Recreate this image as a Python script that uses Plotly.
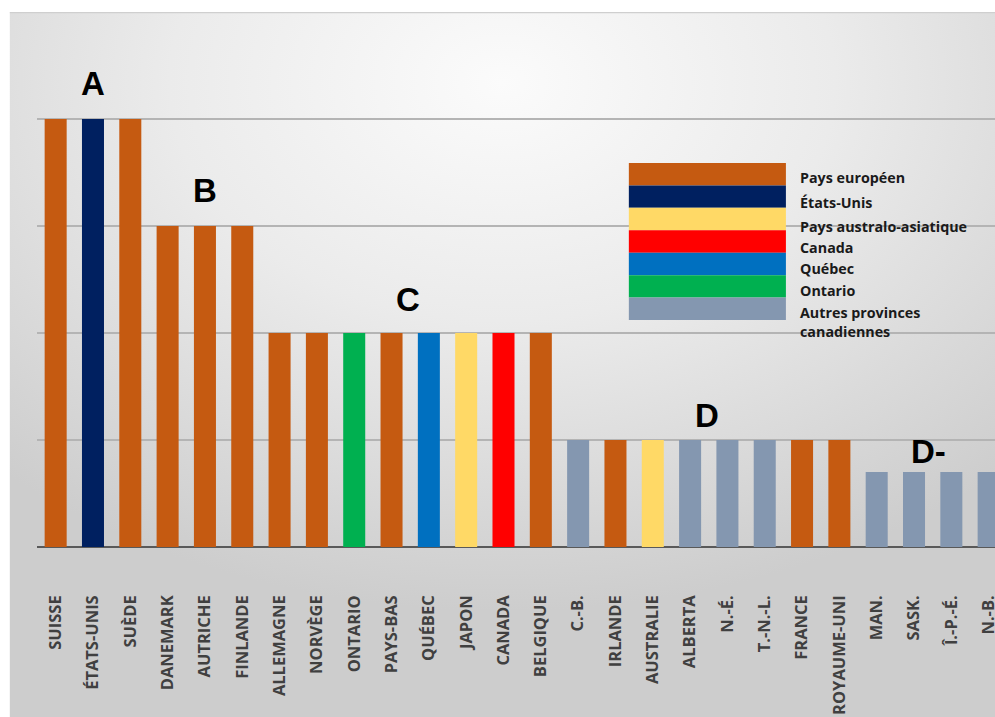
import base64
import plotly.graph_objects as go

# ---- data ----
categories = ["SUISSE", "ÉTATS-UNIS", "SUÈDE", "DANEMARK", "AUTRICHE", "FINLANDE",
              "ALLEMAGNE", "NORVÈGE", "ONTARIO", "PAYS-BAS", "QUÉBEC", "JAPON",
              "CANADA", "BELGIQUE", "C.-B.", "IRLANDE", "AUSTRALIE", "ALBERTA",
              "N.-É.", "T.-N.-L.", "FRANCE", "ROYAUME-UNI", "MAN.", "SASK.",
              "Î.-P.-É.", "N.-B."]
values = [4, 4, 4, 3, 3, 3, 2, 2, 2, 2, 2, 2, 2, 2, 1, 1, 1, 1, 1, 1, 1, 1,
          0.7, 0.7, 0.7, 0.7]
groups = ["eu", "us", "eu", "eu", "eu", "eu", "eu", "eu", "on", "eu", "qc", "asia",
          "ca", "eu", "prov", "eu", "asia", "prov", "prov", "prov", "eu", "eu",
          "prov", "prov", "prov", "prov"]

legend_keys = ["eu", "us", "asia", "ca", "qc", "on", "prov"]
legend_labels = ["Pays européen", "États-Unis", "Pays australo-asiatique", "Canada",
                 "Québec", "Ontario", "Autres provinces<br>canadiennes"]

grade_letters = ["A", "B", "C", "D", "D-"]
grade_x = [1, 4, 9.45, 17.45, 23.4]
grade_y = [4.33, 3.33, 2.31, 1.23, 0.89]

colors = {"eu": "#C55A11", "us": "#002060", "asia": "#FFD966", "ca": "#FF0000",
          "qc": "#0070C0", "on": "#00B050", "prov": "#8497B0"}

# ---- geometry helpers (pixels -> paper) ----
W, H = 995, 717
PL, PR, PT, PB = 37.4, 995.0, 12.0, 547.0
pw, ph = PR - PL, PB - PT


def px_x(x):
    return (x - PL) / pw


def px_y(y):
    return (PB - y) / ph


fig = go.Figure()
fig.add_trace(go.Bar(
    x=list(range(len(categories))), y=values,
    marker=dict(color=[colors[g] for g in groups], line=dict(width=0)),
    width=0.59, hoverinfo="skip", showlegend=False,
))

# gradient panel background (svg image)
svg = f'''<svg xmlns="http://www.w3.org/2000/svg" width="985" height="705" viewBox="0 0 985 705" preserveAspectRatio="none">
<defs><radialGradient id="g" cx="0.5" cy="0.1" r="0.75" gradientUnits="objectBoundingBox">
<stop offset="0" stop-color="#fbfbfb"/><stop offset="0.45" stop-color="#ebebeb"/><stop offset="1" stop-color="#cdcdcd"/>
</radialGradient></defs>
<rect x="0" y="0" width="985" height="705" fill="url(#g)"/>
<line x1="0" y1="0.5" x2="985" y2="0.5" stroke="#cfcfcf" stroke-width="1.5"/>
</svg>'''
uri = "data:image/svg+xml;base64," + base64.b64encode(svg.encode()).decode()
fig.add_layout_image(dict(
    source=uri, xref="paper", yref="paper", x=px_x(10), y=px_y(12),
    sizex=(995 - 10) / pw, sizey=(717 - 12) / ph, sizing="stretch",
    xanchor="left", yanchor="top", layer="below",
))

shapes = []
annotations = []
# custom legend
top = 163.0
band = (320.0 - 163.0) / len(legend_keys)
label_y = [178, 202, 226, 248, 268, 290, 322]
for i, (k, lab) in enumerate(zip(legend_keys, legend_labels)):
    y0 = top + i * band
    shapes.append(dict(type="rect", xref="paper", yref="paper",
                       x0=px_x(629), x1=px_x(786), y0=px_y(y0 + band), y1=px_y(y0),
                       fillcolor=colors[k], line=dict(width=0), layer="above"))
    annotations.append(dict(xref="paper", yref="paper", x=px_x(798), y=px_y(label_y[i]),
                            text=f"<b>{lab}</b>", showarrow=False, xanchor="left",
                            yanchor="middle", align="left",
                            font=dict(family="Open Sans", size=14.3, color="#1a1a1a")))

for letter, gx, gy in zip(grade_letters, grade_x, grade_y):
    annotations.append(dict(x=gx, y=gy, xref="x", yref="y", text=f"<b>{letter}</b>",
                            showarrow=False, font=dict(family="Liberation Sans", size=33, color="#000000")))

fig.update_layout(
    width=W, height=H,
    margin=dict(l=PL, r=W - PR, t=PT, b=H - PB, pad=0, autoexpand=False),
    paper_bgcolor="#ffffff", plot_bgcolor="rgba(0,0,0,0)",
    shapes=shapes, annotations=annotations,
    bargap=0.41, showlegend=False, hovermode=False,
    xaxis=dict(range=[-0.5, 25.17], tickmode="array",
               tickvals=list(range(len(categories))),
               ticktext=[f"<b>{c}</b>" for c in categories],
               tickangle=-90, ticks="", ticklabelstandoff=44,
               ticklabeloverflow="allow", automargin=False,
               tickfont=dict(family="Open Sans", size=16.5, color="#404040"),
               showgrid=False, zeroline=False, showline=False, fixedrange=True),
    yaxis=dict(range=[0, 5], tickvals=[1, 2, 3, 4], showticklabels=False,
               showgrid=True, gridcolor="#b4b4b4", gridwidth=1.5,
               zeroline=True, zerolinecolor="#595959", zerolinewidth=2,
               showline=False, ticks="", fixedrange=True, automargin=False),
)

fig.write_html("out.html", config={"displayModeBar": False})
